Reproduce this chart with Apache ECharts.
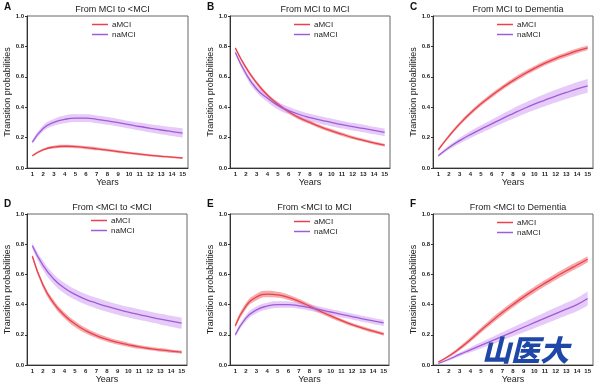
<!DOCTYPE html>
<html><head><meta charset="utf-8">
<script src="https://cdn.jsdelivr.net/npm/echarts@6/dist/echarts.min.js"></script>
<style>html,body{margin:0;padding:0;background:#fff}#c{width:600px;height:388px}</style>
</head><body><div id="c"></div>
<script>
const years = ['1','2','3','4','5','6','7','8','9','10','11','12','13','14','15'];
const yTicks = [0, 0.2, 0.4, 0.6, 0.8, 1.0];

// Panel A: From MCI to <MCI
const A_aMCI    = [0.08,0.12,0.138,0.143,0.14,0.134,0.126,0.117,0.108,0.099,0.091,0.083,0.077,0.071,0.066];
const A_aMCI_ci = [0.006,0.008,0.009,0.01,0.01,0.01,0.01,0.009,0.009,0.008,0.008,0.007,0.007,0.007,0.007];
const A_naMCI    = [0.17,0.26,0.30,0.32,0.328,0.328,0.32,0.31,0.298,0.285,0.273,0.261,0.25,0.24,0.23];
const A_naMCI_ci = [0.012,0.02,0.022,0.025,0.025,0.025,0.025,0.025,0.025,0.025,0.026,0.027,0.028,0.029,0.03];
// Panel B: From MCI to MCI
const B_aMCI    = [0.79,0.66,0.56,0.48,0.42,0.37,0.33,0.30,0.27,0.245,0.222,0.2,0.182,0.165,0.15];
const B_aMCI_ci = [0.01,0.012,0.012,0.012,0.012,0.012,0.012,0.012,0.011,0.011,0.011,0.01,0.01,0.01,0.01];
const B_naMCI    = [0.76,0.62,0.52,0.46,0.41,0.378,0.352,0.332,0.315,0.3,0.285,0.272,0.26,0.247,0.235];
const B_naMCI_ci = [0.012,0.02,0.022,0.024,0.025,0.025,0.025,0.025,0.025,0.025,0.025,0.025,0.025,0.025,0.025];
// Panel C: From MCI to Dementia
const C_aMCI    = [0.12,0.21,0.29,0.36,0.422,0.477,0.528,0.575,0.617,0.655,0.69,0.72,0.746,0.77,0.79];
const C_aMCI_ci = [0.008,0.01,0.012,0.013,0.014,0.015,0.015,0.016,0.016,0.016,0.016,0.016,0.016,0.016,0.016];
const C_naMCI    = [0.08,0.135,0.18,0.22,0.256,0.29,0.325,0.358,0.39,0.42,0.447,0.473,0.497,0.52,0.54];
const C_naMCI_ci = [0.008,0.013,0.018,0.022,0.025,0.028,0.031,0.034,0.036,0.038,0.04,0.042,0.043,0.044,0.045];
// Panel D: From <MCI to <MCI
const D_aMCI    = [0.72,0.53,0.41,0.33,0.272,0.228,0.195,0.17,0.15,0.134,0.12,0.109,0.1,0.092,0.085];
const D_aMCI_ci = [0.015,0.018,0.02,0.02,0.02,0.018,0.017,0.016,0.015,0.014,0.013,0.012,0.012,0.011,0.011];
const D_naMCI    = [0.79,0.66,0.57,0.51,0.468,0.435,0.41,0.388,0.368,0.35,0.334,0.319,0.304,0.29,0.277];
const D_naMCI_ci = [0.02,0.03,0.033,0.035,0.035,0.035,0.035,0.035,0.035,0.035,0.035,0.035,0.035,0.036,0.037];
// Panel E: From <MCI to MCI
const E_aMCI    = [0.26,0.39,0.45,0.47,0.465,0.448,0.422,0.39,0.357,0.325,0.295,0.268,0.245,0.224,0.205];
const E_aMCI_ci = [0.015,0.02,0.022,0.022,0.02,0.018,0.016,0.015,0.014,0.013,0.012,0.012,0.011,0.011,0.011];
const E_naMCI    = [0.20,0.31,0.365,0.39,0.40,0.40,0.392,0.38,0.366,0.351,0.336,0.321,0.306,0.292,0.279];
const E_naMCI_ci = [0.015,0.02,0.022,0.022,0.022,0.021,0.02,0.02,0.02,0.02,0.02,0.02,0.02,0.02,0.02];
// Panel F: From <MCI to Dementia
const F_aMCI    = [0.02,0.06,0.11,0.168,0.23,0.29,0.347,0.40,0.451,0.498,0.542,0.584,0.624,0.662,0.70];
const F_aMCI_ci = [0.004,0.008,0.012,0.015,0.017,0.019,0.02,0.02,0.021,0.021,0.021,0.021,0.021,0.021,0.021];
const F_naMCI    = [0.01,0.038,0.07,0.10,0.13,0.16,0.19,0.22,0.25,0.28,0.31,0.34,0.37,0.40,0.44];
const F_naMCI_ci = [0.003,0.008,0.012,0.016,0.02,0.024,0.027,0.03,0.033,0.036,0.038,0.04,0.042,0.044,0.046];

const letters = ['A','B','C','D','E','F'];
const titles = ['From MCI to <MCI','From MCI to MCI','From MCI to Dementia','From <MCI to <MCI','From <MCI to MCI','From <MCI to Dementia'];
const seriesSets = [
  [A_aMCI,A_aMCI_ci,A_naMCI,A_naMCI_ci],
  [B_aMCI,B_aMCI_ci,B_naMCI,B_naMCI_ci],
  [C_aMCI,C_aMCI_ci,C_naMCI,C_naMCI_ci],
  [D_aMCI,D_aMCI_ci,D_naMCI,D_naMCI_ci],
  [E_aMCI,E_aMCI_ci,E_naMCI,E_naMCI_ci],
  [F_aMCI,F_aMCI_ci,F_naMCI,F_naMCI_ci]
];

const grids = [
  {left:27,top:16,width:161,height:152},
  {left:230,top:16,width:160,height:152},
  {left:433,top:16,width:160,height:152},
  {left:27,top:214,width:160,height:151},
  {left:230,top:214,width:159,height:151},
  {left:433,top:214,width:160,height:151}
];
const letterPos = [[4,7],[207,7],[410,7],[4,204],[207,204],[410,204]];
const legendPos = [[92,20],[294,20],[497,20],[91,216],[294,217],[497,218]];

const FONT = 'Liberation Sans, Arial, sans-serif';
const RED = '#e8434c', RED_BAND = 'rgba(238,100,105,0.55)';
const PUR = '#a05cd8', PUR_BAND = 'rgba(205,150,242,0.5)';

const option = {
  animation:false,
  textStyle:{fontFamily:FONT},
  grid:[], xAxis:[], yAxis:[], series:[], title:[], legend:[], graphic:[]
};

grids.forEach((g,i)=>{
  option.grid.push(Object.assign({show:true,borderColor:'#666',borderWidth:1,backgroundColor:'transparent',containLabel:false},g));
  option.xAxis.push({
    type:'category', gridIndex:i, data:years, boundaryGap:true,
    name:'Years', nameLocation:'middle', nameGap:10,
    nameTextStyle:{fontSize:9,color:'#222',fontFamily:FONT},
    axisLine:{lineStyle:{color:'#333',width:1}},
    axisTick:{alignWithLabel:true,length:2,lineStyle:{color:'#333'}},
    axisLabel:{fontSize:6,fontWeight:'bold',color:'#222',margin:3,interval:0}
  });
  option.yAxis.push({
    type:'value', gridIndex:i, min:0, max:1, interval:0.2,
    name:'Transition probabilities', nameLocation:'middle', nameGap:12,
    nameTextStyle:{fontSize:9,color:'#222',fontFamily:FONT},
    axisLine:{show:true,lineStyle:{color:'#333',width:1}},
    axisTick:{show:true,length:2,lineStyle:{color:'#333'}},
    splitLine:{show:false},
    axisLabel:{fontSize:6,fontWeight:'bold',color:'#222',margin:3,formatter:v=>v.toFixed(1)}
  });
  option.title.push({
    text:titles[i], left:g.left+g.width/2, top:g.top-16, textAlign:'center',
    textStyle:{fontSize:9,fontWeight:'normal',color:'#222',fontFamily:FONT}
  });
  option.graphic.push({
    type:'text', left:letterPos[i][0], top:letterPos[i][1]-5,
    style:{text:letters[i],font:'bold 10px '+FONT,fill:'#111'}
  });
  option.legend.push({
    data:['aMCI','naMCI'], orient:'vertical', left:legendPos[i][0], top:legendPos[i][1],
    itemWidth:16, itemHeight:1.5, itemGap:1, icon:'rect', padding:0,
    selectedMode:false,
    textStyle:{fontSize:8,color:'#222',lineHeight:9,padding:[0,0,0,-1],fontFamily:FONT}
  });
  const [a,aci,n,nci] = seriesSets[i];
  const bands = [[a,aci,RED_BAND,'aMCI band'],[n,nci,PUR_BAND,'naMCI band']];
  bands.forEach(([m,ci,col,nm],k)=>{
    const lower = m.map((v,j)=>+(v-ci[j]).toFixed(4));
    const width = ci.map(c=>+(2*c).toFixed(4));
    const st = 'band'+i+'_'+k;
    option.series.push({
      name:nm+' lo', type:'line', xAxisIndex:i, yAxisIndex:i, stack:st, data:lower,
      smooth:true, symbol:'none', lineStyle:{opacity:0}, silent:true, z:1
    });
    option.series.push({
      name:nm, type:'line', xAxisIndex:i, yAxisIndex:i, stack:st, data:width,
      smooth:true, symbol:'none', lineStyle:{opacity:0}, areaStyle:{color:col,opacity:1}, silent:true, z:1
    });
  });
  option.series.push({
    name:'aMCI', type:'line', xAxisIndex:i, yAxisIndex:i, data:a, smooth:true,
    symbol:'none', color:RED, lineStyle:{color:RED,width:1.3}, z:3
  });
  option.series.push({
    name:'naMCI', type:'line', xAxisIndex:i, yAxisIndex:i, data:n, smooth:true,
    symbol:'none', color:PUR, lineStyle:{color:PUR,width:1.3}, z:3
  });
});

// watermark
option.graphic.push({
  type:'text', left:482, top:335, z:100,
  style:{text:'山医大', font:'italic 900 29px "Noto Sans CJK SC"', fill:'#1e47a8'}
});

const chart = echarts.init(document.getElementById('c'),null,{renderer:'canvas'});
chart.setOption(option);
</script>
</body></html>
